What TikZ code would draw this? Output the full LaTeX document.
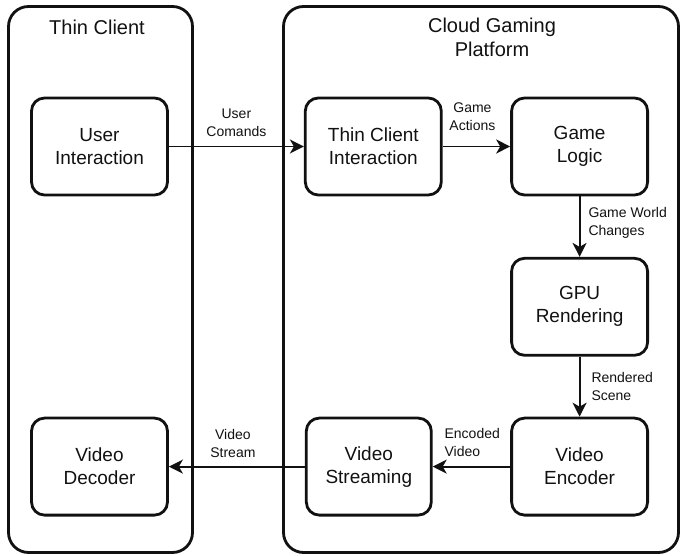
\documentclass[tikz,border=0pt]{standalone}
\usepackage{fontspec}
\setmainfont{Liberation Sans}
\usepackage{tikz}
\usetikzlibrary{arrows.meta, positioning}
\definecolor{mydark}{RGB}{17,17,17}
\tikzset{
  group/.style={rectangle, draw=mydark, line width=2.8pt, rounded corners=20pt, inner sep=0pt},
  block/.style={rectangle, draw=mydark, text=mydark, align=center,
    minimum width=136pt, minimum height=97pt, rounded corners=13pt,
    line width=2.8pt, font=\fontsize{19}{23}\selectfont},
  title/.style={align=center, text=mydark, font=\fontsize{20}{24}\selectfont},
  lbl/.style={align=center, text=mydark, inner sep=0pt, font=\fontsize{14}{18}\selectfont},
  arrow/.style={-{Stealth[length=14pt, width=14pt, inset=4pt]}, line width=1.8pt, color=mydark}
}

\begin{document}
\begin{tikzpicture}[x=1pt, y=1pt]
\useasboundingbox (0,0) rectangle (681,-556);

% the two sides
\node[group, minimum width=184pt, minimum height=546pt] (client) at (100.5,-279.5) {};
\node[group, minimum width=395pt, minimum height=546pt] (cloud) at (481,-279.5) {};
\node[title, anchor=base] (clienttitle) at (97,-35) {Thin Client};
\node[title, anchor=base] (cloudtitle) at (492,-57) {Cloud Gaming\\Platform};

\node[block] (user) at (99.5,-146.5) {User\\Interaction};
\node[block, right=135pt of user] (tci) {Thin Client\\Interaction};
\node[block, right=67.5pt of tci] (logic) {Game\\Logic};
\node[block, below=60.5pt of logic] (gpu) {GPU\\Rendering};
\node[block, below=60pt of gpu] (enc) {Video\\Encoder};
\node[block, minimum width=125pt, left=77.5pt of enc] (stream) {Video\\Streaming};
\node[block, left=136pt of stream] (dec) {Video\\Decoder};

\draw[arrow] (user) -- node[lbl, above=9pt]{User\\Comands} (tci);
\draw[arrow] (tci) -- node[lbl, above=15pt, xshift=-4pt]{Game\\Actions} (logic);
\draw[arrow] (logic) -- node[lbl, right=8pt, align=left, yshift=4pt]{Game World\\Changes} (gpu);
\draw[arrow] (gpu) -- node[lbl, right=11pt, align=left]{Rendered\\Scene} (enc);
\draw[arrow] (enc) -- node[lbl, pos=1, anchor=south west, align=left, xshift=11pt, yshift=9pt]{Encoded\\Video} (stream);
\draw[arrow] (stream) -- node[lbl, above=8pt, xshift=-4pt]{Video\\Stream} (dec);
\end{tikzpicture}
\end{document}
